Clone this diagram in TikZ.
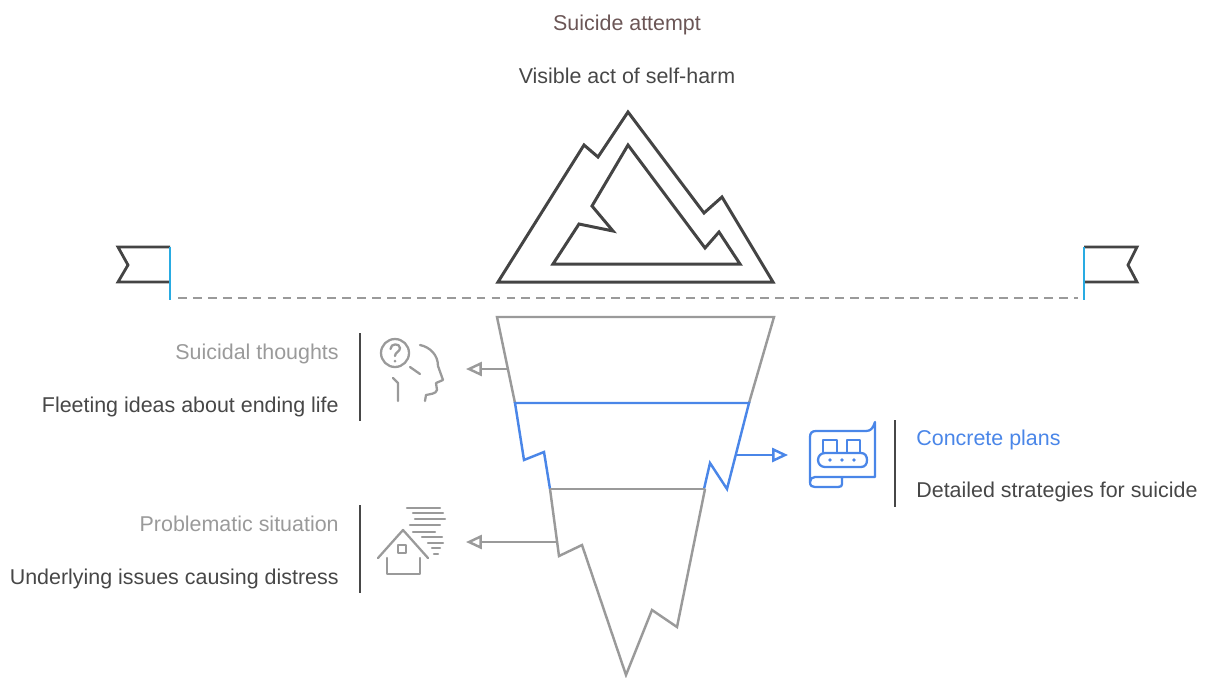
\documentclass[tikz,border=0pt]{standalone}
\usepackage{fontspec}
\setmainfont{Liberation Sans}
\usepackage{tikz}
\usetikzlibrary{arrows.meta}
\definecolor{rock}{HTML}{444444}
\definecolor{deep}{HTML}{9A9A9A}
\definecolor{plan}{HTML}{4A86E8}
\definecolor{pole}{HTML}{29ABE2}
\definecolor{peak}{HTML}{6B5656}
\definecolor{note}{HTML}{474747}
\tikzstyle{title}=[inner sep=0pt,font=\fontsize{12.2}{14}\selectfont]
\tikzstyle{desc}=[title,text=note]
\tikzstyle{marker}=[line width=1.6pt,note]
\tikzstyle{ice}=[line width=1.4pt,deep,line join=miter]
\tikzstyle{pointer}=[line width=1.4pt,-{Triangle[open,length=9pt,width=8pt]}]
\tikzstyle{icon}=[line width=1.3pt,line cap=round,line join=round]
\newcommand{\pennant}[3]{
  \draw[rock,line width=1.6pt] (#1,247) -- (#2,247) -- (#3,265) -- (#2,282) -- (#1,282);
  \draw[pole,line width=1.6pt] (#1,247) -- (#1,300);
}

\begin{document}
\begin{tikzpicture}[x=0.02cm,y=-0.02cm]
\useasboundingbox (0,0) rectangle (1206,677);

% tip of the iceberg
\node[title,text=peak,anchor=base] (attempt) at (627,30) {Suicide attempt};
\node[desc,anchor=base] (attemptDesc) at (627,83) {Visible act of self-harm};
\draw[rock,line width=1.7pt,line join=miter]
  (628,112) -- (704,213) -- (722,197) -- (773,282) -- (498,282)
  -- (584,145) -- (598,157) -- cycle;
\draw[rock,line width=1.7pt,line join=miter]
  (628,145) -- (705,248) -- (719,232) -- (740,264) -- (553,264)
  -- (579,224) -- (613,231) -- (592,206) -- cycle;

% water line
\draw[deep,line width=1.4pt,dash pattern=on 5pt off 3.5pt] (178,298) -- (1078,298);
\pennant{170}{118}{128}
\pennant{1084}{1137}{1128}

% below the surface
\draw[ice] (515,403) -- (497,317) -- (774,317) -- (749,403);
\draw[ice,plan] (550,489) -- (544,452) -- (524,460) -- (515,403) -- (749,403)
  -- (727,489) -- (710,463) -- (704,489);
\draw[ice] (550,489) -- (705,489);
\draw[ice] (550,489) -- (559,556) -- (582,545) -- (626,675) -- (652,610)
  -- (677,627) -- (705,489);

\coordinate (thoughtsRoot) at (508,369);
\coordinate (thoughtsTip) at (466,369);
\coordinate (plansRoot) at (736,455);
\coordinate (plansTip) at (788,455);
\coordinate (problemRoot) at (557,542);
\coordinate (problemTip) at (466,542);
\draw[pointer,deep] (thoughtsRoot) -- (thoughtsTip);
\draw[pointer,plan] (plansRoot) -- (plansTip);
\draw[pointer,deep] (problemRoot) -- (problemTip);

% suicidal thoughts
\node[title,text=deep,anchor=base east] (thoughts) at (339,359) {Suicidal thoughts};
\node[desc,anchor=base east] (thoughtsDesc) at (339,412) {Fleeting ideas about ending life};
\draw[marker] (360,333) -- (360,421);
\draw[icon,deep] (395,353) circle (14);
\draw[icon,deep] (410,367) -- (420,374);
\draw[icon,deep] (390.5,349) .. controls (390.5,343) and (400,343) .. (400,348)
  .. controls (400,352) and (395,352) .. (395,356);
\fill[deep] (395,361) circle (1.5);
\draw[icon,deep] (420,345) .. controls (430,347) and (438,355) .. (438,366)
  -- (443,380) -- (436,383) -- (437,390) .. controls (436,394) and (430,394) .. (426,395)
  -- (425,401);
\draw[icon,deep] (393,378) -- (398,383) -- (398,401);

% concrete plans
\node[title,text=plan,anchor=base west] (plans) at (916,445) {Concrete plans};
\node[desc,anchor=base west] (plansDesc) at (916,497) {Detailed strategies for suicide};
\draw[marker] (895,420) -- (895,507);
\draw[icon,plan] (842,477) -- (875,477) -- (875,422) .. controls (873,428) and (871,431) .. (866,431)
  -- (816,431) .. controls (812,431) and (810,433) .. (810,437) -- (810,482)
  .. controls (810,486) and (812,487) .. (815,487) -- (838,487)
  .. controls (841,487) and (842,486) .. (842,484) -- (842,477) -- (815,477)
  .. controls (812,477) and (810,479) .. (810,482);
\draw[icon,plan] (823,452) -- (823,440) -- (837,440) -- (837,452);
\draw[icon,plan] (847,452) -- (847,440) -- (860,440) -- (860,452);
\draw[icon,plan] (825,453) -- (861,453) .. controls (865,453) and (867,456) .. (867,460)
  .. controls (867,464) and (865,467) .. (861,467) -- (825,467)
  .. controls (821,467) and (818,464) .. (818,460) .. controls (818,456) and (821,453) .. cycle;
\foreach \dx in {830,842,854}
  \fill[plan] (\dx,460) circle (1.8);

% problematic situation
\node[title,text=deep,anchor=base east] (problem) at (339,531) {Problematic situation};
\node[desc,anchor=base east] (problemDesc) at (339,584) {Underlying issues causing distress};
\draw[marker] (360,505) -- (360,593);
\draw[icon,deep] (378,558) -- (403,530) -- (428,558);
\draw[icon,deep] (387,558) -- (387,574) -- (420,574) -- (420,558);
\draw[icon,deep] (398,545) rectangle (406,553);
\draw[icon,deep] (407,508) -- (440,508);
\draw[icon,deep] (413,513) -- (443,513);
\draw[icon,deep] (415,519) -- (445,519);
\draw[icon,deep] (410,525) -- (440,525);
\draw[icon,deep] (413,532) -- (435,532);
\draw[icon,deep] (422,537) -- (442,537);
\draw[icon,deep] (428,543) -- (443,543);
\draw[icon,deep] (432,548) -- (440,548);
\draw[icon,deep] (434,554) -- (438,554);

\end{tikzpicture}
\end{document}
